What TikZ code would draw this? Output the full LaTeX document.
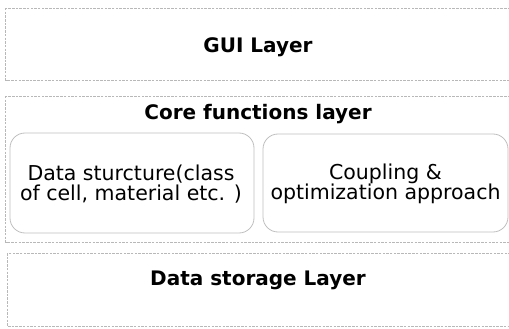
\documentclass[tikz,border=0pt]{standalone}
\usepackage{fontspec}
\setmainfont{DejaVu Sans}
\begin{document}
\begin{tikzpicture}[x=1pt,y=-1pt,
  layerbox/.style={draw=black!28, dash pattern=on 2.5pt off 1.2pt, line width=0.7pt},
  innerbox/.style={draw=black!25, line width=0.8pt, rounded corners=15pt},
  title/.style={font=\bfseries\fontsize{20}{22}\selectfont, anchor=base, inner sep=0pt},
  body/.style={font=\fontsize{20.5}{20.5}\selectfont, align=center, inner sep=0pt}]
\useasboundingbox (0,0) rectangle (509,329);
\begin{scope}
\clip (0,0) rectangle (509,329);
\draw[layerbox] (5.5,8) rectangle (530,80);
\draw[layerbox] (5.5,96) rectangle (530,242);
\draw[layerbox] (7,253) rectangle (530,326);
\end{scope}
\draw[innerbox] (10,133) rectangle (254,233);
\draw[innerbox] (263,134) rectangle (508,232);
\node[title] (gui) at (258,52.5) {GUI Layer};
\node[title] (core) at (258,120) {Core functions layer};
\node[title] (store) at (258,285) {Data storage Layer};
\node[body] (ds) at (131,184) {Data sturcture(class\\of cell, material etc. )};
\node[body] (cp) at (385.5,184) {Coupling \&\\optimization approach};
\end{tikzpicture}
\end{document}
